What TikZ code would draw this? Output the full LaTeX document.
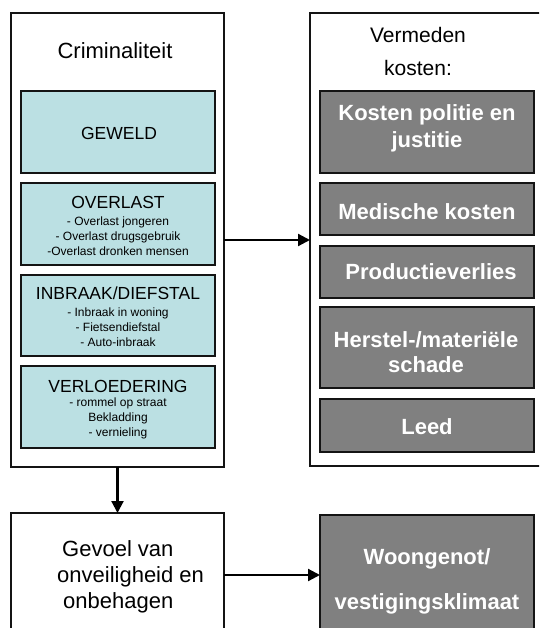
\documentclass[tikz,border=0pt]{standalone}
\usepackage{fontspec}
\setmainfont{Liberation Sans}
\usetikzlibrary{arrows.meta}
\definecolor{cyanfill}{RGB}{187,224,227}
\definecolor{grayfill}{RGB}{128,128,128}
\definecolor{edge}{RGB}{20,20,20}
\begin{document}
\begin{tikzpicture}[x=1pt,y=-1pt,
  panel/.style={draw=edge, line width=1.1pt, fill=white, inner sep=0pt, outer sep=0pt},
  cat/.style={draw=edge, line width=1.8pt, fill=cyanfill, inner sep=0pt, outer sep=0pt, minimum width=194pt},
  cost/.style={draw=edge, line width=1.8pt, fill=grayfill, inner sep=0pt, outer sep=0pt, minimum width=214pt},
  costtext/.style={text=white, font=\fontsize{22}{27}\selectfont\bfseries, align=center, inner sep=0pt},
  head/.style={font=\fontsize{22}{33}\selectfont, align=center, inner sep=0pt},
  cattitle/.style={font=\fontsize{17.5}{20}\selectfont, inner sep=0pt},
  catitems/.style={font=\fontsize{12}{15}\selectfont, align=center, inner sep=0pt},
  arr/.style={line width=2.2pt, -{Triangle[length=12pt,width=12pt]}}]

\useasboundingbox (0,0) rectangle (539,628);
\clip (0,0) rectangle (539,628);

% crime panel with its categories
\node[panel, minimum width=213pt, minimum height=454pt] (crim) at (117.5,240) {};
\node[head] (crimhead) at (115,51) {Criminaliteit};

\node[cat, minimum height=82pt] (geweld) at (118,132) {};
\node[cattitle] (geweldtitle) at (119,133) {GEWELD};

\node[cat, minimum height=82pt] (overlast) at (118,224) {};
\node[cattitle] (overlasttitle) at (118,202) {OVERLAST};
\node[catitems] (overlastitems) at (118,236) {- Overlast jongeren\\- Overlast drugsgebruik\\-Overlast dronken mensen};

\node[cat, minimum height=81pt] (inbraak) at (118,315.5) {};
\node[cattitle] (inbraaktitle) at (118,293) {INBRAAK/DIEFSTAL};
\node[catitems] (inbraakitems) at (118,327.5) {- Inbraak in woning\\- Fietsendiefstal\\- Auto-inbraak};

\node[cat, minimum height=82pt] (verloed) at (118,407) {};
\node[cattitle] (verloedtitle) at (118,386) {VERLOEDERING};
\node[catitems] (verloeditems) at (118,418.5) {- rommel op straat\\Bekladding\\- vernieling};

% avoided-costs panel
\node[panel, minimum width=240pt, minimum height=453pt] (costs) at (430,239.5) {};
\node[head, font=\fontsize{21}{33}\selectfont] (costshead) at (418,51.5) {Vermeden\\kosten:};

\node[cost, minimum height=82pt] (politie) at (427,132) {};
\node[costtext] (politietext) at (427,128.7) {Kosten politie en\\justitie};

\node[cost, minimum height=52pt] (medisch) at (427,209) {};
\node[costtext] (medischtext) at (427,212) {Medische kosten};

\node[cost, minimum height=52pt] (productie) at (427,272) {};
\node[costtext] (productietext) at (431,272) {Productieverlies};

\node[cost, minimum height=81pt] (herstel) at (427,347.5) {};
\node[costtext, font=\fontsize{22}{25}\selectfont\bfseries] (hersteltext) at (426,352.5) {Herstel-/materiële\\schade};

\node[cost, minimum height=53pt] (leed) at (427,425.5) {};
\node[costtext] (leedtext) at (427,427) {Leed};

% lower row
\node[panel, minimum width=213pt, minimum height=132pt] (gevoel) at (117.5,579) {};
\node[font=\fontsize{22}{26}\selectfont, align=left, inner sep=0pt, anchor=west] (gevoeltext) at (57,577.3)
  {\hspace*{5pt}Gevoel van\\onveiligheid en\\\hspace*{6pt}onbehagen};

\node[cost, minimum height=130pt] (woon) at (427,580) {};
\node[costtext, font=\fontsize{22}{45}\selectfont\bfseries] (woontext) at (427,581.7) {Woongenot/\\vestigingsklimaat};

% connectors
\coordinate (rowa) at (0,240);
\coordinate (rowb) at (0,575);
\draw[arr] (crim.east |- rowa) -- (costs.west |- rowa);
\draw[arr] (crim.south) -- (gevoel.north);
\draw[arr] (gevoel.east |- rowb) -- (woon.west |- rowb);
\end{tikzpicture}
\end{document}
